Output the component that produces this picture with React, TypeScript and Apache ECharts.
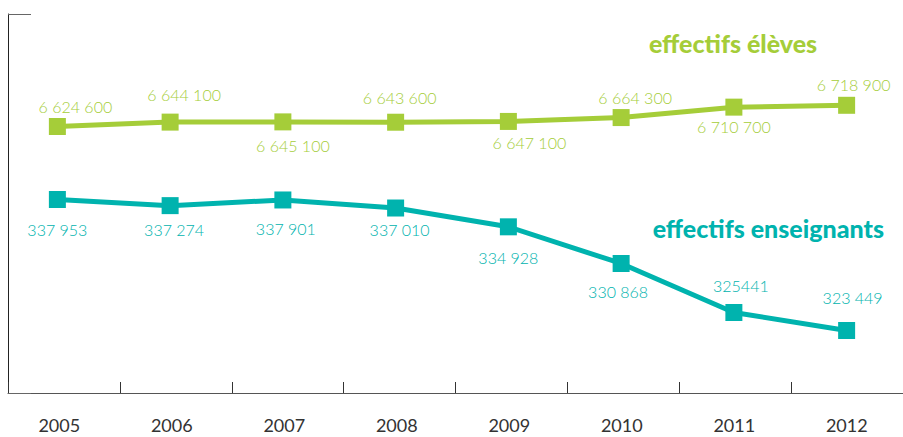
import React, { useEffect, useRef } from "react";
import * as echarts from "echarts";

const years = ["2005", "2006", "2007", "2008", "2009", "2010", "2011", "2012"];
const eleves = [6624600, 6644100, 6645100, 6643600, 6647100, 6664300, 6710700, 6718900];
const elevesLabels = ["6 624 600", "6 644 100", "6 645 100", "6 643 600", "6 647 100", "6 664 300", "6 710 700", "6 718 900"];
const enseignants = [337953, 337274, 337901, 337010, 334928, 330868, 325441, 323449];
const enseignantsLabels = ["337 953", "337 274", "337 901", "337 010", "334 928", "330 868", "325441", "323 449"];

// label placement (dx, dy) relative to each marker
const elevesLabelOffsets = [[18, -20], [14, -28], [10, 24], [4, -25], [21, 21], [14, -20], [0, 19], [7, -21]];
const enseignantsLabelOffsets = [[0, 30], [4, 24], [3, 29], [4, 21], [0, 31], [-3, 28], [7, -27], [6, -33]];

const GREEN = "#a5cd39";
const TEAL = "#00b3ae";
const FONT = "Lato, 'Open Sans', sans-serif";

export default function App() {
  const ref = useRef<HTMLDivElement>(null);
  useEffect(() => {
    document.body.style.margin = "0";
    if (!ref.current) return;
    const chart = echarts.init(ref.current, undefined, { renderer: "svg" });
    const mkData = (vals: number[], offs: number[][]) =>
      vals.map((v, i) => ({ value: v, label: { offset: offs[i] } }));
    chart.setOption({
      animation: false,
      backgroundColor: "#ffffff",
      grid: [
        { left: 8, top: 14, width: 904, height: 379 },
        { left: 1, top: 14, width: 904, height: 379 },
        { left: 3, top: 14, width: 926, height: 379 },
      ],
      xAxis: [
        {
          gridIndex: 0,
          type: "category",
          data: years,
          boundaryGap: true,
          axisLine: { show: true, lineStyle: { color: "#555", width: 1 } },
          axisTick: { show: true, inside: true, length: 11, lineStyle: { color: "#333" } },
          axisLabel: { show: false },
        },
        {
          gridIndex: 1,
          type: "category",
          data: years,
          boundaryGap: true,
          show: false,
        },
        {
          gridIndex: 2,
          type: "category",
          data: years,
          boundaryGap: true,
          axisLine: { show: false },
          axisTick: { show: false },
          axisLabel: { show: true, margin: 23, fontSize: 18, fontWeight: 400, color: "#333", fontFamily: FONT },
        },
      ],
      yAxis: [
        {
          gridIndex: 0,
          type: "value",
          min: 0,
          max: 1,
          interval: 1,
          axisLine: { show: true, lineStyle: { color: "#222", width: 1 } },
          axisTick: { show: true, inside: true, length: 23, lineStyle: { color: "#666" } },
          axisLabel: { show: false },
          splitLine: { show: false },
        },
        { gridIndex: 1, type: "value", min: 5439100, max: 7125000, show: false, splitLine: { show: false } },
        { gridIndex: 1, type: "value", min: 316530, max: 358490, show: false, splitLine: { show: false } },
        { gridIndex: 2, type: "value", show: false, splitLine: { show: false } },
      ],
      series: [
        {
          type: "line",
          name: "effectifs élèves",
          xAxisIndex: 1,
          yAxisIndex: 1,
          data: mkData(eleves, elevesLabelOffsets),
          symbol: "rect",
          symbolSize: 17,
          lineStyle: { color: GREEN, width: 5 },
          itemStyle: { color: GREEN },
          label: {
            show: true,
            position: "inside",
            align: "center",
            verticalAlign: "middle",
            color: GREEN,
            fontSize: 16,
            fontWeight: 300,
            fontFamily: FONT,
            formatter: (p: any) => elevesLabels[p.dataIndex],
          },
        },
        {
          type: "line",
          name: "effectifs enseignants",
          xAxisIndex: 1,
          yAxisIndex: 2,
          data: mkData(enseignants, enseignantsLabelOffsets),
          symbol: "rect",
          symbolSize: 17,
          lineStyle: { color: TEAL, width: 5 },
          itemStyle: { color: TEAL },
          label: {
            show: true,
            position: "inside",
            align: "center",
            verticalAlign: "middle",
            color: TEAL,
            fontSize: 16,
            fontWeight: 300,
            fontFamily: FONT,
            formatter: (p: any) => enseignantsLabels[p.dataIndex],
          },
        },
      ],
      graphic: [
        {
          type: "text",
          x: 733,
          y: 43,
          style: {
            text: "effectifs élèves",
            fill: GREEN,
            font: `900 25px ${FONT}`,
            textAlign: "center",
            textVerticalAlign: "middle",
          },
        },
        {
          type: "text",
          x: 884,
          y: 228,
          style: {
            text: "effectifs enseignants",
            fill: TEAL,
            font: `900 25px ${FONT}`,
            textAlign: "right",
            textVerticalAlign: "middle",
          },
        },
      ],
    });
    return () => chart.dispose();
  }, []);
  return <div ref={ref} style={{ width: 903, height: 437 }} />;
}
